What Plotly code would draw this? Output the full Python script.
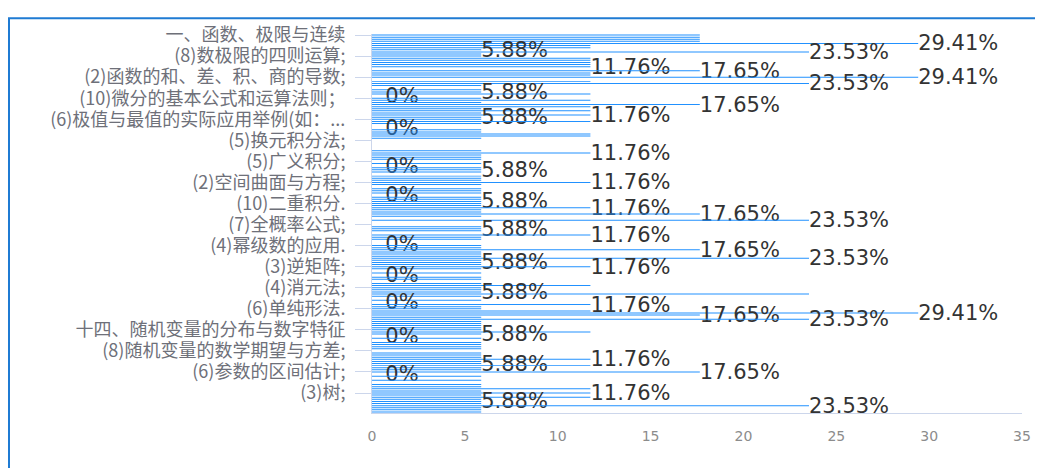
import plotly.graph_objects as go

# bar values (percent), top category first
values = [
    17.65, 17.65, 17.65, 17.65, 29.41, 11.76, 11.76, 5.88, 23.53, 5.88,
    5.88, 11.76, 11.76, 11.76, 11.76, 11.76, 0, 17.65, 11.76, 11.76,
    29.41, 0, 11.76, 23.53, 5.88, 0, 5.88, 5.88, 11.76, 0,
    5.88, 11.76, 5.88, 17.65, 11.76, 5.88, 11.76, 5.88, 11.76, 5.88,
    5.88, 11.76, 5.88, 0, 0, 5.88, 5.88, 11.76, 11.76, 5.88,
    0, 0, 0, 0, 0, 5.88, 11.76, 5.88, 5.88, 5.88,
    0, 5.88, 0, 5.88, 5.88, 5.88, 0, 5.88, 5.88, 5.88,
    11.76, 5.88, 0, 5.88, 5.88, 5.88, 0, 5.88, 5.88, 5.88,
    5.88, 5.88, 11.76, 5.88, 5.88, 17.65, 5.88, 0, 23.53, 0,
    0, 5.88, 5.88, 5.88, 0, 11.76, 5.88, 5.88, 0, 0,
    5.88, 5.88, 17.65, 5.88, 5.88, 5.88, 23.53, 5.88, 5.88, 5.88,
    11.76, 5.88, 0, 5.88, 0, 5.88, 5.88, 0, 5.88, 11.76,
    5.88, 5.88, 5.88, 23.53, 5.88, 0, 5.88, 0, 11.76, 5.88,
    5.88, 11.76, 29.41, 17.65, 5.88, 23.53, 5.88, 5.88, 5.88, 5.88,
    5.88, 11.76, 5.88, 0, 5.88, 0, 5.88, 5.88, 5.88, 5.88,
    0, 5.88, 5.88, 5.88, 11.76, 5.88, 5.88, 11.76, 5.88, 5.88,
    17.65, 0, 5.88, 0, 5.88, 0, 5.88, 5.88, 11.76, 5.88,
    11.76, 5.88, 11.76, 5.88, 5.88, 5.88, 23.53, 5.88, 5.88, 5.88,
]

# categories whose value label is visible (others hidden by overlap)
label_idx = [4, 7, 8, 15, 17, 20, 23, 27, 29, 33, 38, 39, 44, 56, 62, 64, 70,
             76, 79, 82, 85, 88, 92, 95, 99, 102, 106, 108, 110, 114, 122,
             127, 128, 132, 133, 135, 142, 143, 154, 156, 160, 161, 170, 174, 176]

# every 10th category shows its name on the axis
tick_idx = [0, 10, 20, 30, 40, 50, 60, 70, 80, 90, 100, 110, 120, 130, 140, 150, 160, 170]
tick_labels = [
    "一、函数、极限与连续",
    "(8)数极限的四则运算;",
    "(2)函数的和、差、积、商的导数;",
    "(10)微分的基本公式和运算法则；",
    "(6)极值与最值的实际应用举例(如：...",
    "(5)换元积分法;",
    "(5)广义积分;",
    "(2)空间曲面与方程;",
    "(10)二重积分.",
    "(7)全概率公式;",
    "(4)幂级数的应用.",
    "(3)逆矩阵;",
    "(4)消元法;",
    "(6)单纯形法.",
    "十四、随机变量的分布与数字特征",
    "(8)随机变量的数学期望与方差;",
    "(6)参数的区间估计;",
    "(3)树;",
]

N = len(values)
positions = list(range(N))
label_set = set(label_idx)


def fmt(v):
    s = f"{v:g}%"
    # zero bars: nudge the label past the (min-length) stub as in the original
    return "\u00a0\u00a0" + s if v == 0 else s


texts = [fmt(v) if i in label_set else "" for i, v in enumerate(values)]

fig = go.Figure(go.Bar(
    x=values,
    y=positions,
    orientation="h",
    width=0.47,
    # alpha < 1 makes plotly round thin bars to whole pixels instead of
    # expanding them, so the individual thin bars stay separated
    marker=dict(color="rgba(30,144,255,0.99)", line=dict(width=0)),
    text=texts,
    textposition="outside",
    constraintext="none",
    cliponaxis=False,
    textfont=dict(family="DejaVu Sans", size=21, color="#333333"),
    hoverinfo="skip",
))

# page body has an 8px margin, so the figure is sized/offset to compensate
fig.update_layout(
    width=1035,
    height=460,
    margin=dict(l=364, r=21, t=20, b=55),
    paper_bgcolor="white",
    plot_bgcolor="white",
    showlegend=False,
    xaxis=dict(
        range=[0, 35],
        dtick=5,
        showgrid=False,
        zeroline=False,
        showline=True,
        linecolor="#ccd6eb",
        linewidth=1,
        ticks="",
        tickfont=dict(family="DejaVu Sans", size=14, color="#8c8c8c"),
        ticklabelstandoff=10,
    ),
    yaxis=dict(
        range=[N - 0.5, -0.5],
        tickmode="array",
        tickvals=tick_idx,
        ticktext=tick_labels,
        showgrid=False,
        zeroline=False,
        showline=True,
        linecolor="#ccd6eb",
        linewidth=1,
        ticks="outside",
        ticklen=16,
        tickcolor="#ccd6eb",
        tickfont=dict(family="Noto Sans CJK SC", size=18, color="#6e7079"),
        ticklabelstandoff=6,
    ),
    shapes=[dict(
        type="rect", xref="paper", yref="paper",
        x0=(1 - 364) / 650, x1=1.2, y0=-0.3, y1=(405 - 4) / 385,
        line=dict(color="#1f7bd3", width=2), fillcolor="rgba(0,0,0,0)",
        layer="below",
    )],
)

fig.write_html("out.html")
